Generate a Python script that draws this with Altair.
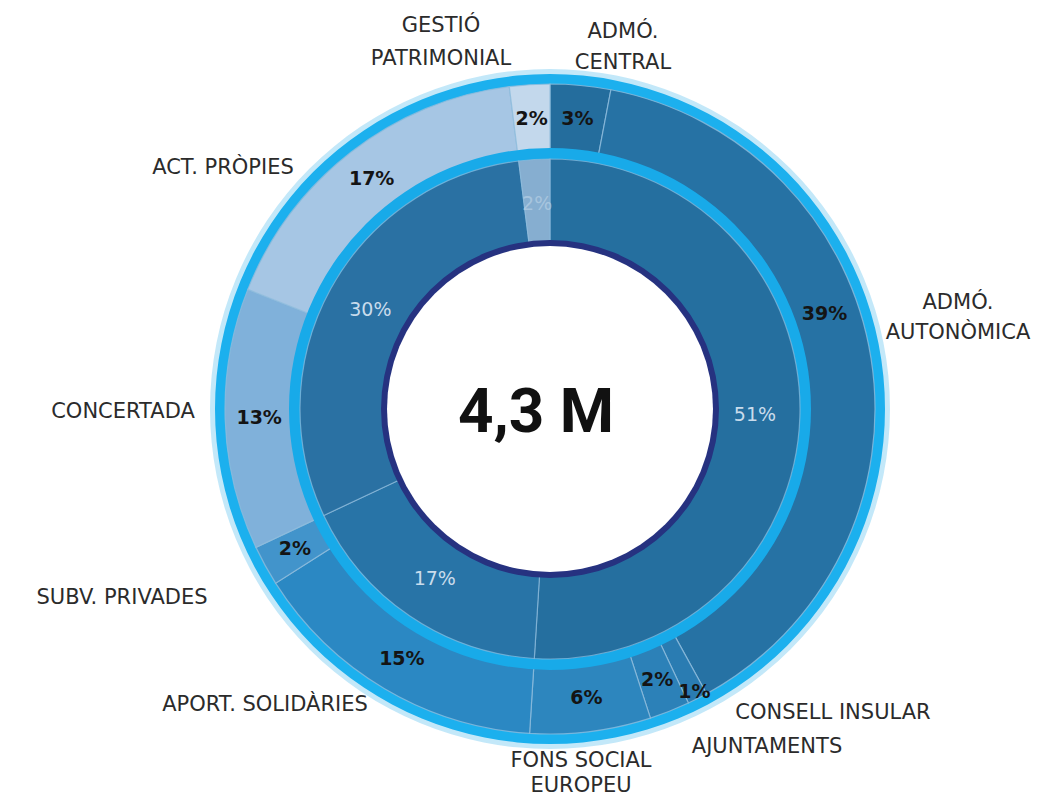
import math
import altair as alt
import pandas as pd

# ---- data ----
outer_cats = ["ADMÓ. CENTRAL", "ADMÓ. AUTONÒMICA", "CONSELL INSULAR", "AJUNTAMENTS",
              "FONS SOCIAL EUROPEU", "APORT. SOLIDÀRIES", "SUBV. PRIVADES",
              "CONCERTADA", "ACT. PRÒPIES", "GESTIÓ PATRIMONIAL"]
outer_vals = [3, 39, 1, 2, 6, 15, 2, 13, 17, 2]
outer_labels = ["ADMÓ.\nCENTRAL", "ADMÓ.\nAUTONÒMICA", "CONSELL INSULAR", "AJUNTAMENTS",
                "FONS SOCIAL\nEUROPEU", "APORT. SOLIDÀRIES", "SUBV. PRIVADES",
                "CONCERTADA", "ACT. PRÒPIES", "GESTIÓ\nPATRIMONIAL"]

inner_cats = ["PÚBLIC", "PRIVAT", "PROPIS", "PATRIMONI"]
inner_vals = [51, 17, 30, 2]

total_text = "4,3 M"

# ---- styles ----
outer_colors = ["#246d9d", "#2672a4", "#2a7cb2", "#2c81b8", "#2d86be",
                "#2b88c3", "#4294cb", "#80b1da", "#a6c6e4", "#c3d8ec"]
inner_colors = ["#256f9f", "#2874a7", "#2a71a3", "#86aed0"]

CX, CY = 542, 401  # chart coordinates of the ring centre

outer_df = pd.DataFrame({
    "cat": outer_cats, "value": outer_vals, "idx": list(range(len(outer_cats))),
    "pct": [f"{v}%" for v in outer_vals], "label": outer_labels,
})
inner_df = pd.DataFrame({
    "cat": inner_cats, "value": inner_vals, "idx": list(range(len(inner_cats))),
    "pct": [f"{v}%" for v in inner_vals],
})

color_scale = alt.Scale(domain=outer_cats + inner_cats, range=outer_colors + inner_colors)
FULL = 2 * math.pi


def ring(r_in, r_out, color, opacity=1.0):
    return alt.Chart(pd.DataFrame({"k": [0]})).mark_arc(
        radius=r_out, radius2=r_in, color=color, opacity=opacity
    ).encode(theta=alt.value(0), theta2=alt.value(FULL),
             x=alt.value(CX), y=alt.value(CY))


glow = ring(333, 340, "#a9def6", 0.7)
outer_cyan = ring(321, 335, "#1cb0ee")
inner_cyan = ring(247, 261, "#18aae9")
navy = ring(161, 169, "#263280")
white = ring(0, 163, "#ffffff")

outer_base = alt.Chart(outer_df).encode(
    theta=alt.Theta("value:Q", stack=True),
    order=alt.Order("idx:Q"),
    x=alt.value(CX), y=alt.value(CY),
)
outer_arc = outer_base.mark_arc(radius=325, radius2=258, stroke="#8dbbdc",
                                strokeWidth=1.2, strokeOpacity=0.8).encode(
    color=alt.Color("cat:N", scale=color_scale, legend=None))


def outer_pct(cond, radius, dx=0, dy=0):
    # every layer keeps all rows so the stacked mid-angles stay intact;
    # only the rows matching `cond` show their text
    return outer_base.transform_calculate(
        t=f"({cond}) ? datum.pct : ''"
    ).mark_text(radius=radius, dx=dx, dy=dy, font="DejaVu Sans", fontWeight="bold",
                fontSize=19, color="#141414").encode(text="t:N", detail="cat:N")


outer_txt_main = outer_pct("datum.value != 1 && datum.value != 39", 291)
outer_txt_small = outer_pct("datum.value == 1", 318)
outer_txt_big = outer_pct("datum.value == 39", 290, dx=-12, dy=-50)

inner_base = alt.Chart(inner_df).encode(
    theta=alt.Theta("value:Q", stack=True),
    order=alt.Order("idx:Q"),
    x=alt.value(CX), y=alt.value(CY),
)
inner_arc = inner_base.mark_arc(radius=250, radius2=166, stroke="#8dbbdc",
                                strokeWidth=1.2, strokeOpacity=0.7).encode(
    color=alt.Color("cat:N", scale=color_scale, legend=None))
inner_txt = inner_base.mark_text(radius=205, font="DejaVu Sans", fontSize=19,
                                 color="#c9dcec").encode(
    text="pct:N", detail="cat:N",
    opacity=alt.condition("datum.value < 5", alt.value(0.5), alt.value(1.0)))

center_txt = alt.Chart(pd.DataFrame({"t": [total_text]})).mark_text(
    font="Roboto", fontWeight="bold", fontSize=62, color="#111111", dx=-14
).encode(text="t:N", x=alt.value(CX), y=alt.value(CY + 4))

# category label anchors (annotation layout, chart coordinates; first line)
label_pos = {
    "GESTIÓ PATRIMONIAL": (433, 18, 33),
    "ADMÓ. CENTRAL": (615, 24, 31),
    "ACT. PRÒPIES": (215, 160, 30),
    "ADMÓ. AUTONÒMICA": (950, 295, 30),
    "CONCERTADA": (115, 404, 30),
    "SUBV. PRIVADES": (114, 590, 30),
    "APORT. SOLIDÀRIES": (257, 697, 30),
    "FONS SOCIAL EUROPEU": (573, 753, 25),
    "CONSELL INSULAR": (825, 705, 30),
    "AJUNTAMENTS": (759, 739, 30),
}

label_layers = []
for c in outer_cats:
    lx, ly, lh = label_pos[c]
    label_layers.append(
        alt.Chart(outer_df).transform_filter(alt.datum.cat == c).mark_text(
            font="DejaVu Sans", fontSize=21, color="#2b2b2b", lineBreak="\n",
            lineHeight=lh, align="center", baseline="middle"
        ).encode(text="label:N", x=alt.value(lx), y=alt.value(ly))
    )

chart = alt.layer(
    glow, outer_cyan, outer_arc, inner_cyan, inner_arc, navy, white,
    outer_txt_main, outer_txt_small, outer_txt_big, inner_txt, center_txt,
    *label_layers
).properties(
    width=1038, height=789, autosize="none", padding=0
).configure_view(stroke=None)

chart.save("out.html", embed_options={"renderer": "svg", "actions": False})
